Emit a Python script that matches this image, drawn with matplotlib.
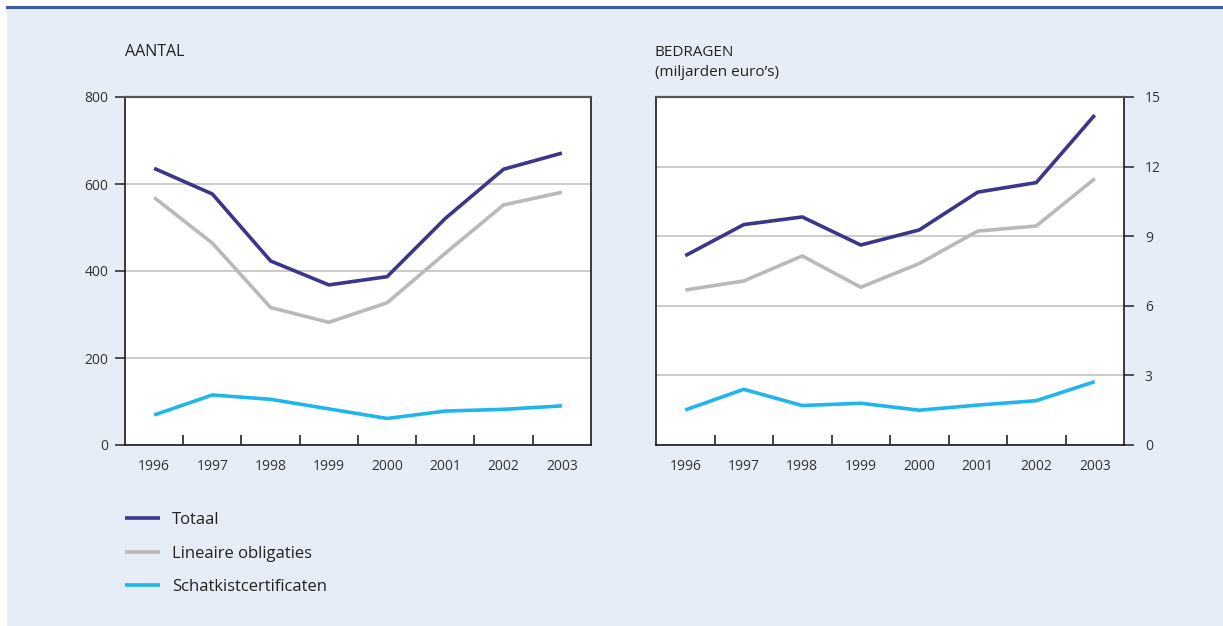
import matplotlib.pyplot as plt
from matplotlib.patches import Rectangle
from matplotlib.lines import Line2D
import numpy as np

plt.rcParams['font.family'] = ['Open Sans', 'DejaVu Sans']

# Data
jaren = ['1996', '1997', '1998', '1999', '2000', '2001', '2002', '2003']
aantal_totaal = [636, 577, 423, 368, 387, 521, 634, 671]
aantal_lineair = [569, 464, 316, 282, 327, 441, 552, 581]
aantal_schatkist = [69, 115, 105, 83, 61, 78, 82, 90]
bedrag_totaal = [8.16, 9.50, 9.83, 8.62, 9.27, 10.90, 11.31, 14.22]
bedrag_lineair = [6.68, 7.07, 8.15, 6.80, 7.82, 9.22, 9.44, 11.48]
bedrag_schatkist = [1.51, 2.40, 1.70, 1.80, 1.50, 1.72, 1.91, 2.73]
labels = ['Totaal', 'Lineaire obligaties', 'Schatkistcertificaten']

kleuren = ['#3b3689', '#b9b9bd', '#1fb6ec']
bg = '#e7edf6'
W, H = 1223, 626

fig = plt.figure(figsize=(W / 100, H / 100), dpi=100)
fig.patch.set_facecolor('white')
# achtergrond en bovenlijn
fig.add_artist(Rectangle((7 / W, 0), 1 - 7 / W, 1 - 8 / H, transform=fig.transFigure,
                         facecolor=bg, edgecolor='none', zorder=-10))
fig.add_artist(Line2D([7 / W, 1], [1 - 6.5 / H, 1 - 6.5 / H], transform=fig.transFigure,
                      color='#3a5da6', lw=2.2))

bottom = (H - 445) / H
height = 348 / H
ax1 = fig.add_axes([125 / W, bottom, 466 / W, height])
ax2 = fig.add_axes([656 / W, bottom, 468 / W, height])

x = np.arange(len(jaren))


def opmaak(ax, ylim, yticks, rechts=False):
    ax.set_xlim(-0.5, len(jaren) - 0.5)
    ax.set_ylim(*ylim)
    ax.set_yticks(yticks)
    ax.set_xticks(x)
    ax.set_xticklabels(jaren)
    ax.set_xticks(x[:-1] + 0.5, minor=True)
    ax.tick_params(axis='x', which='major', length=0, pad=10, labelsize=10, colors='#333333')
    ax.tick_params(axis='x', which='minor', direction='in', length=7, width=1.2, color='#222222')
    ax.tick_params(axis='y', length=7, width=1.2, color='#333333', labelsize=10,
                   labelcolor='#333333', pad=5 if not rechts else 8)
    if rechts:
        ax.yaxis.tick_right()
        ax.yaxis.set_label_position('right')
    ax.grid(axis='y', color='#bdbdbd', lw=1.1)
    ax.set_axisbelow(True)
    for s in ['left', 'bottom', 'right']:
        ax.spines[s].set_color('#1a1a1a')
        ax.spines[s].set_linewidth(1.2)
    ax.spines['top'].set_color('#555555')
    ax.spines['top'].set_linewidth(1.6)


for ax, reeksen in [(ax1, [aantal_totaal, aantal_lineair, aantal_schatkist]),
                    (ax2, [bedrag_totaal, bedrag_lineair, bedrag_schatkist])]:
    for r, k, lab in zip(reeksen, kleuren, labels):
        ax.plot(x, r, color=k, lw=2.6, label=lab, solid_capstyle='butt', zorder=3)

opmaak(ax1, (0, 800), [0, 200, 400, 600, 800])
opmaak(ax2, (0, 15), [0, 3, 6, 9, 12, 15], rechts=True)

fig.text(125 / W, 1 - 52 / H, 'AANTAL', fontsize=11.5, color='#222222', va='center')
fig.text(655 / W, 1 - 52 / H, 'BEDRAGEN', fontsize=11, color='#222222', va='center')
fig.text(655 / W, 1 - 73 / H, '(miljarden euro\u2019s)', fontsize=11, color='#222222', va='center')

handles, lbls = ax1.get_legend_handles_labels()
fig.legend(handles, lbls, loc='upper left', bbox_to_anchor=(110 / W, 1 - 497 / H),
           frameon=False, fontsize=12, handlelength=2.1, handletextpad=0.72,
           labelspacing=1.05, labelcolor='#222222')

fig.savefig('out.png', dpi=100, facecolor=fig.get_facecolor())
